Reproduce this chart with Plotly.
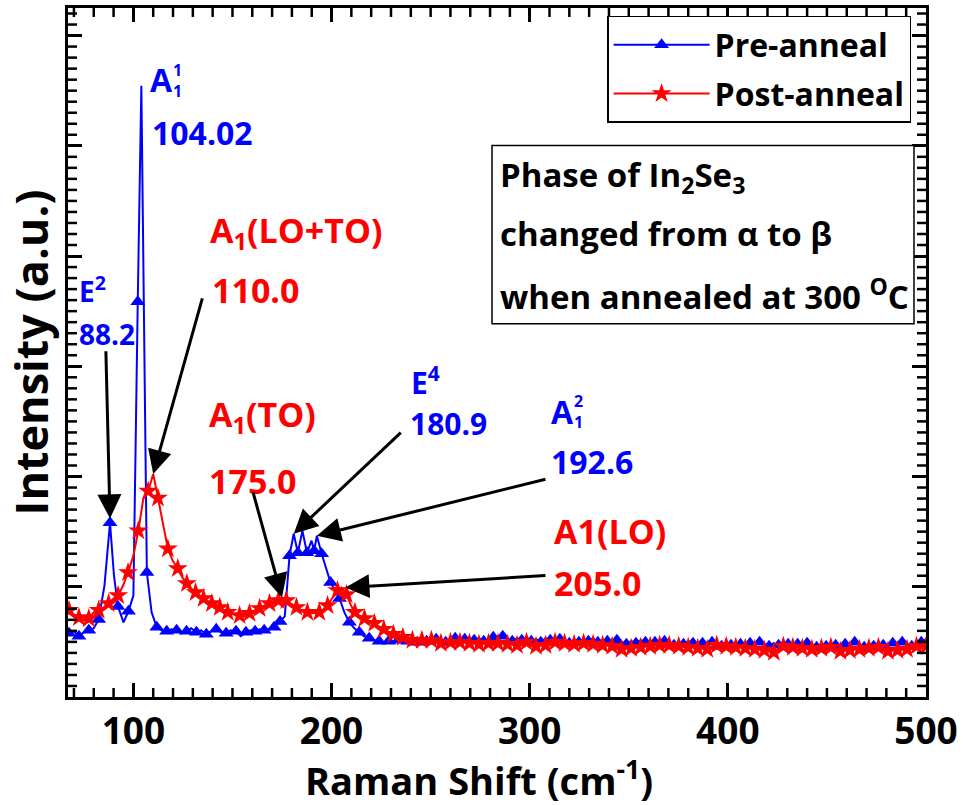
import plotly.graph_objects as go

BLUE = "#0000FF"
RED = "#FF0000"
FONT = "Open Sans"

X_RANGE = [67, 500]
Y_RANGE = [0, 6250]

# Wavenumber samples (cm-1) shared by both spectra beyond ~226 cm-1
tail_x = [
    226.4, 228.8, 231.2, 233.6, 236.0, 238.4, 240.8, 243.2, 245.6, 248.0,
    250.4, 252.8, 255.2, 257.6, 260.0, 262.4, 264.8, 267.2, 269.6, 272.0,
    274.4, 276.8, 279.2, 281.6, 284.0, 286.4, 288.8, 291.2, 293.6, 296.0,
    298.4, 300.8, 303.2, 305.6, 308.0, 310.4, 312.8, 315.2, 317.6, 320.0,
    322.4, 324.8, 327.2, 329.6, 332.0, 334.4, 336.8, 339.2, 341.6, 344.0,
    346.4, 348.8, 351.2, 353.6, 356.0, 358.4, 360.8, 363.2, 365.6, 368.0,
    370.4, 372.8, 375.2, 377.6, 380.0, 382.4, 384.8, 387.2, 389.6, 392.0,
    394.4, 396.8, 399.2, 401.6, 404.0, 406.4, 408.8, 411.2, 413.6, 416.0,
    418.4, 420.8, 423.2, 425.6, 428.0, 430.4, 432.8, 435.2, 437.6, 440.0,
    442.4, 444.8, 447.2, 449.6, 452.0, 454.4, 456.8, 459.2, 461.6, 464.0,
    466.4, 468.8, 471.2, 473.6, 476.0, 478.4, 480.8, 483.2, 485.6, 488.0,
    490.4, 492.8, 495.2, 497.6, 500.0,
]

# Pre-anneal spectrum (alpha-In2Se3)
pre_x = [
    67.5, 70.0, 72.5, 75.0, 77.5, 80.0, 82.5, 85.4, 88.2, 90.2,
    92.2, 95.0, 97.5, 100.0, 102.2, 104.02, 106.8, 109.2, 111.8, 114.2,
    116.8, 119.2, 121.8, 124.2, 126.8, 129.2, 131.8, 134.2, 136.8, 139.2,
    141.8, 144.2, 146.8, 149.2, 151.8, 154.2, 156.8, 159.2, 161.4, 163.7,
    166.0, 168.5, 171.0, 172.6, 174.0, 176.4, 178.8, 180.9, 183.0, 185.3,
    187.6, 189.9, 191.2, 192.6, 195.0, 197.4, 199.5, 201.8, 204.0, 206.5,
    209.0, 211.5, 214.0, 216.5, 219.0, 221.5, 224.0,
] + tail_x
pre_y = [
    578, 596, 551, 587, 605, 623, 704, 1011, 1580, 1102,
    822, 677, 777, 921, 3585, 5544, 1129, 768, 632, 605,
    596, 614, 605, 578, 596, 623, 587, 605, 569, 596,
    614, 587, 578, 605, 596, 551, 587, 605, 596, 614,
    605, 614, 632, 659, 686, 731, 1282, 1481, 1309, 1508,
    1309, 1418, 1327, 1463, 1300, 1165, 1038, 966, 894, 768,
    677, 623, 587, 551, 533, 515, 506,
    497, 506, 488, 515, 497, 506, 524, 497, 515, 506,
    488, 524, 506, 497, 515, 533, 506, 524, 497, 515,
    533, 506, 524, 542, 515, 551, 524, 506, 533, 515,
    542, 506, 524, 497, 533, 515, 497, 524, 506, 488,
    515, 497, 524, 506, 533, 497, 479, 506, 488, 515,
    497, 479, 506, 488, 515, 497, 470, 497, 479, 506,
    488, 470, 497, 479, 506, 488, 461, 488, 470, 497,
    479, 461, 488, 470, 452, 479, 461, 488, 470, 497,
    479, 461, 488, 470, 497, 479, 452, 479, 461, 488,
    470, 452, 479, 461, 488, 470, 452, 479, 461, 497,
    470, 452, 479, 461, 488, 470, 461, 488, 470, 497,
    479, 461, 488, 497, 524,
]

# Post-anneal spectrum (beta-In2Se3)
post_x = [
    67.5, 70.0, 72.5, 75.0, 77.5, 80.0, 82.5, 85.0, 87.5, 90.0,
    92.3, 94.8, 97.3, 100.0, 102.5, 105.0, 107.5, 110.0, 112.4, 114.8,
    117.4, 119.8, 122.4, 124.7, 127.0, 129.2, 131.4, 133.4, 135.4, 137.5,
    139.6, 141.6, 143.6, 145.6, 147.6, 150.6, 153.6, 156.0, 158.6, 161.1,
    163.7, 166.2, 168.7, 171.6, 173.2, 175.0, 177.2, 179.6, 182.3, 185.0,
    187.8, 190.8, 193.8, 196.0, 198.0, 200.6, 203.0, 205.0, 207.6, 209.8,
    211.8, 214.0, 216.6, 219.0, 221.6, 224.0,
] + tail_x
post_y = [
    786, 749, 722, 695, 713, 768, 786, 813, 849, 894,
    921, 1011, 1129, 1282, 1508, 1797, 1869, 2023, 1806, 1571,
    1345, 1237, 1165, 1084, 1029, 984, 948, 921, 894, 867,
    849, 831, 813, 786, 768, 749, 740, 731, 759, 786,
    804, 831, 849, 867, 876, 903, 876, 840, 813, 786,
    768, 759, 768, 795, 831, 903, 966, 993, 930, 831,
    768, 740, 713, 695, 668, 641, 614,
    587, 569, 551, 542, 524, 515, 506, 515, 497, 515,
    506, 488, 506, 497, 479, 497, 506, 488, 497, 479,
    497, 488, 470, 488, 497, 479, 488, 470, 488, 497,
    479, 461, 488, 470, 479, 497, 470, 488, 461, 479,
    470, 488, 461, 479, 452, 470, 488, 461, 479, 433,
    461, 442, 470, 452, 479, 461, 442, 470, 452, 470,
    442, 461, 424, 452, 470, 442, 461, 433, 452, 470,
    442, 461, 433, 452, 470, 442, 461, 433, 452, 424,
    452, 406, 442, 461, 433, 452, 424, 442, 461, 433,
    415, 442, 424, 452, 433, 415, 442, 424, 452, 433,
    415, 442, 424, 452, 433, 415, 442, 424, 452, 433,
    452, 461, 442, 461,
]

# Assigned Raman modes (peak positions, cm-1)
pre_peaks = [88.2, 104.02, 180.9, 192.6]
post_peaks = [110.0, 175.0, 205.0]

# Label placement for each mode: mode name, name/value anchors and arrow tail (data units)
pre_labels = {
    88.2: dict(name="E<sup>2</sup>", size=28, name_at=(71.5, 3700), value_at=(71.5, 3290),
               tail=(86.1, 3150), tip_dy=40),
    104.02: dict(name="A", sup="1", sub="1", size=32, name_at=(107.3, 5600),
                 value_at=(108.3, 5120), tail=None),
    180.9: dict(name="E<sup>4</sup>", size=30, name_at=(239.2, 2870), value_at=(238.7, 2483),
                tail=(235.7, 2411), tip_dy=0),
    192.6: dict(name="A", sup="2", sub="1", size=32, name_at=(309.7, 2592),
                value_at=(309.7, 2140), tail=(308.7, 1978), tip_dy=0),
}
post_labels = {
    110.0: dict(name="A<sub>1</sub>(LO+TO)", size=34, name_at=(137.5, 4217),
                value_at=(138.5, 3693), tail=(135.0, 3630), tip_dy=0),
    175.0: dict(name="A<sub>1</sub>(TO)", size=34, name_at=(137.0, 2546),
                value_at=(137.0, 1960), tail=(160.2, 1869), tip_dy=0),
    205.0: dict(name="A1(LO)", size=34, name_at=(311.2, 1508), value_at=(311.2, 1038),
                tail=(308.7, 1102), tip_dy=0, tip_dx=2),
}

fig = go.Figure()


def add_spectrum(xs, ys, color, symbol, msize, name, group):
    # full-resolution line, markers on every second sample, plus a legend entry
    fig.add_trace(go.Scatter(x=xs, y=ys, mode="lines", line=dict(color=color, width=2),
                             showlegend=False, hoverinfo="skip"))
    fig.add_trace(go.Scatter(x=xs[::2], y=ys[::2], mode="markers",
                             marker=dict(color=color, symbol=symbol, size=msize),
                             showlegend=False))
    fig.add_trace(go.Scatter(x=[None], y=[None], mode="lines+markers", name=name,
                             legendgroup=group,
                             line=dict(color=color, width=2),
                             marker=dict(color=color, symbol=symbol, size=msize)))


add_spectrum(pre_x, pre_y, BLUE, "triangle-up", 13, "Pre-anneal", "pre")
add_spectrum(post_x, post_y, RED, "star", 15, "Post-anneal", "post")


def add_peak_labels(xs, ys, peaks, labels, color, value_fmt):
    for p in peaks:
        info = labels[p]
        f = dict(family=FONT, size=info["size"], weight="bold", color=color)
        nx, ny = info["name_at"]
        fig.add_annotation(x=nx, y=ny, text=info["name"], showarrow=False,
                           xanchor="left", yanchor="middle", font=f)
        if "sup" in info:
            small = dict(family=FONT, size=16, weight="bold", color=color)
            fig.add_annotation(x=nx, y=ny, text=info["sup"], showarrow=False,
                               xanchor="left", yanchor="middle", font=small,
                               xshift=23, yshift=10)
            fig.add_annotation(x=nx, y=ny, text=info["sub"], showarrow=False,
                               xanchor="left", yanchor="middle", font=small,
                               xshift=23, yshift=-11)
        vx, vy = info["value_at"]
        fig.add_annotation(x=vx, y=vy, text=value_fmt(p), showarrow=False,
                           xanchor="left", yanchor="middle", font=f)
        if info["tail"] is not None:
            ty = ys[xs.index(p)] + info.get("tip_dy", 0)
            tx = p + info.get("tip_dx", 0)
            fig.add_annotation(x=tx, y=ty, ax=info["tail"][0], ay=info["tail"][1],
                               axref="x", ayref="y", text="", showarrow=True,
                               arrowhead=2, arrowsize=1.6, arrowwidth=3,
                               arrowcolor="black", standoff=0)


add_peak_labels(pre_x, pre_y, pre_peaks, pre_labels, BLUE, lambda v: f"{v:g}")
add_peak_labels(post_x, post_y, post_peaks, post_labels, RED, lambda v: f"{v:.1f}")

# Note box about the phase change
note_lines = [
    "Phase of In<sub>2</sub>Se<sub>3</sub>",
    "changed from \u03b1 to \u03b2",
    "when annealed at 300 <sup>O</sup>C",
]
note_y = [0.756, 0.672, 0.584]
fig.add_shape(type="rect", xref="paper", yref="paper", x0=0.4942, x1=0.986,
              y0=0.5419, y1=0.8006, line=dict(color="black", width=1.5),
              fillcolor="white", layer="above")
for txt, yy in zip(note_lines, note_y):
    fig.add_annotation(xref="paper", yref="paper", x=0.5012, y=yy, text=txt,
                       showarrow=False, xanchor="left", yanchor="middle",
                       font=dict(family=FONT, size=33, weight="bold", color="black"))

# x-axis title
fig.add_annotation(xref="paper", yref="paper", x=0.479, y=-0.118,
                   text="Raman Shift (cm<sup>-1</sup>)", showarrow=False,
                   xanchor="center", yanchor="middle",
                   font=dict(family=FONT, size=38, weight="bold", color="black"))

# Minor tick marks (every 10 cm-1 and every 1/10 of a major y step) on all four sides
MINOR_PX = 9
plot_w, plot_h = 963 - 68 - 35, 805 - 5 - 108
tick_line = dict(color="black", width=2.5)
for v in range(70, 501, 10):
    if v % 100 == 0:
        continue
    for y0, y1 in ((0, MINOR_PX / plot_h), (1 - MINOR_PX / plot_h, 1)):
        fig.add_shape(type="line", xref="x", yref="y domain", x0=v, x1=v, y0=y0, y1=y1,
                      line=tick_line, layer="above")
for v in range(100, Y_RANGE[1], 100):
    if v % 1000 == 0:
        continue
    for x0, x1 in ((0, MINOR_PX / plot_w), (1 - MINOR_PX / plot_w, 1)):
        fig.add_shape(type="line", xref="x domain", yref="y", x0=x0, x1=x1, y0=v, y1=v,
                      line=tick_line, layer="above")

axis_common = dict(
    showline=True, linewidth=3, linecolor="black", mirror="allticks",
    ticks="inside", ticklen=14, tickwidth=2.5, tickcolor="black",
    showgrid=False, zeroline=False,
)

fig.update_layout(
    width=963, height=805,
    margin=dict(l=68, r=35, t=5, b=108),
    paper_bgcolor="white", plot_bgcolor="white",
    xaxis=dict(
        range=X_RANGE, tick0=0, dtick=100,
        tickfont=dict(family=FONT, size=37, weight="bold", color="black"),
        **axis_common,
    ),
    yaxis=dict(
        range=Y_RANGE, tick0=0, dtick=1000, showticklabels=False,
        title=dict(text="Intensity (a.u.)", standoff=12,
                   font=dict(family=FONT, size=45, weight="bold", color="black")),
        **axis_common,
    ),
    legend=dict(
        x=0.9826, xanchor="right", y=0.9884, yanchor="top",
        bordercolor="black", borderwidth=1.5, bgcolor="white",
        font=dict(family=FONT, size=32, weight="bold", color="black"),
        itemwidth=96, tracegroupgap=4, traceorder="grouped",
    ),
)

fig.write_html("out.html")
